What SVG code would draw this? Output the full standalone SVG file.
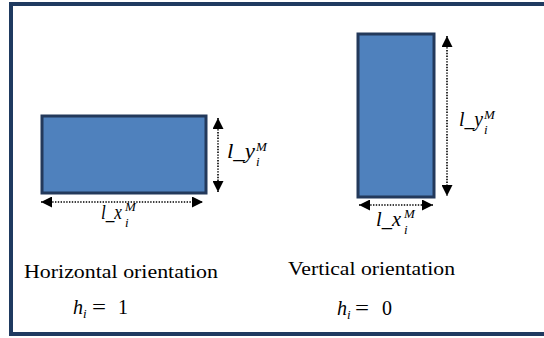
<svg xmlns="http://www.w3.org/2000/svg" width="544" height="338" viewBox="0 0 544 338">
<style>
.frame{fill:none;stroke:#1f3a60;stroke-width:4}
.box{fill:#4f81bd;stroke:#23395b;stroke-width:3}
.dim{stroke:#000;stroke-width:1.6;stroke-dasharray:1.4 1.4;fill:none}
.lbl{font-family:'Liberation Serif','Times New Roman','DejaVu Serif',serif;font-size:19px;fill:#000}
.m{font-family:'Liberation Serif','Times New Roman','DejaVu Serif',serif;font-style:italic;fill:#000}
.n{font-family:'Liberation Serif','Times New Roman','DejaVu Serif',serif;fill:#000}
</style>
<defs>
<marker id="ah" viewBox="0 0 10 10" refX="10" refY="5" markerWidth="11" markerHeight="11" markerUnits="userSpaceOnUse" orient="auto-start-reverse">
<path d="M0,0 L10,5 L0,10 Z" fill="#000"/>
</marker>
</defs>
<rect width="544" height="338" fill="#fff"/>
<rect class="frame" x="11" y="4" width="545" height="330"/>
<g id="horizontal-box">
<rect class="box" x="42" y="116" width="164" height="77"/>
</g>
<g id="vertical-box">
<rect class="box" x="358" y="34" width="76" height="163"/>
</g>
<g id="connectors">
<line class="dim" x1="218" y1="118" x2="218" y2="192" marker-start="url(#ah)" marker-end="url(#ah)"/>
<line class="dim" x1="41" y1="202" x2="203" y2="202" marker-start="url(#ah)" marker-end="url(#ah)"/>
<line class="dim" x1="447" y1="36" x2="447" y2="196" marker-start="url(#ah)" marker-end="url(#ah)"/>
<line class="dim" x1="359" y1="205" x2="433" y2="205" marker-start="url(#ah)" marker-end="url(#ah)"/>
</g>
<g id="label-h-ly">
<text class="m" x="227" y="158" font-size="20" textLength="28" lengthAdjust="spacingAndGlyphs">l_y</text>
<text class="m" x="256" y="151" font-size="13">M</text>
<text class="m" x="256" y="166" font-size="13">i</text>
</g>
<g id="label-h-lx">
<text class="m" x="101" y="219" font-size="20" textLength="21" lengthAdjust="spacingAndGlyphs">l_x</text>
<text class="m" x="125" y="211" font-size="13">M</text>
<text class="m" x="125" y="227" font-size="13">i</text>
</g>
<g id="label-v-ly">
<text class="m" x="459" y="126" font-size="20" textLength="24" lengthAdjust="spacingAndGlyphs">l_y</text>
<text class="m" x="484" y="119" font-size="13">M</text>
<text class="m" x="484" y="134" font-size="13">i</text>
</g>
<g id="label-v-lx">
<text class="m" x="376" y="226" font-size="20" textLength="25" lengthAdjust="spacingAndGlyphs">l_x</text>
<text class="m" x="404" y="218" font-size="13">M</text>
<text class="m" x="404" y="234" font-size="13">i</text>
</g>
<g id="caption-horizontal">
<text class="lbl" x="24" y="278" textLength="194" lengthAdjust="spacingAndGlyphs">Horizontal orientation</text>
<text class="m" x="73" y="314" font-size="20">h</text>
<text class="m" x="83" y="318" font-size="13">i</text>
<text class="n" x="92" y="314" font-size="20" textLength="14" lengthAdjust="spacingAndGlyphs">=</text>
<text class="n" x="118" y="314" font-size="20">1</text>
</g>
<g id="caption-vertical">
<text class="lbl" x="288" y="275" textLength="167" lengthAdjust="spacingAndGlyphs">Vertical orientation</text>
<text class="m" x="337" y="315" font-size="20">h</text>
<text class="m" x="347" y="319" font-size="13">i</text>
<text class="n" x="355" y="315" font-size="20" textLength="14" lengthAdjust="spacingAndGlyphs">=</text>
<text class="n" x="382" y="315" font-size="20">0</text>
</g>
</svg>
